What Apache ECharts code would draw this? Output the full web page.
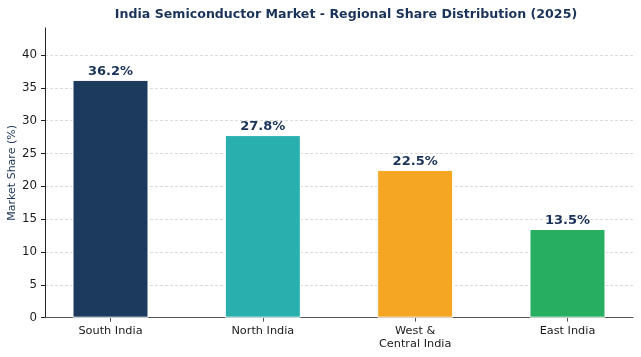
<!DOCTYPE html>
<html><head><meta charset="utf-8">
<script src="https://cdn.jsdelivr.net/npm/echarts@6/dist/echarts.min.js"></script>
<style>html,body{margin:0;padding:0;background:#fff}#c{width:641px;height:357px}</style>
</head><body><div id="c"></div>
<script>
const categories = ['South India', 'North India', 'West &\nCentral India', 'East India'];
const shares = [36.2, 27.8, 22.5, 13.5];
const barColors = ['#1b3a5e', '#2aafaf', '#f5a623', '#27ae60'];
const yTicks = [0, 5, 10, 15, 20, 25, 30, 35, 40];
const xPositions = categories.map((_, i) => i);

const chart = echarts.init(document.getElementById('c'), null, {renderer: 'canvas'});
const font = 'DejaVu Sans';
chart.setOption({
  animation: false,
  backgroundColor: '#fff',
  title: {
    text: 'India Semiconductor Market - Regional Share Distribution (2025)',
    left: 341, top: 3, textAlign: 'center',
    textStyle: {fontFamily: font, fontSize: 12.6, fontWeight: 'bold', color: '#1a3358'}
  },
  grid: {left: 45, right: 8, top: 28, bottom: 39.3, containLabel: false, outerBoundsMode: 'none'},
  xAxis: {
    type: 'value', min: -0.43, max: 3.43,
    splitLine: {show: false},
    axisLine: {show: true, onZero: false, lineStyle: {color: '#555', width: 1}},
    axisTick: {show: true, customValues: xPositions, length: 4, lineStyle: {color: '#555'}},
    axisLabel: {
      customValues: xPositions, margin: 7,
      fontFamily: font, fontSize: 11.3, color: '#1a1a1a', lineHeight: 13,
      formatter: v => categories[Math.round(v)] || ''
    }
  },
  yAxis: {
    type: 'value', min: 0, max: 44.1, interval: 5,
    name: 'Market Share (%)', nameLocation: 'middle', nameGap: 27, nameRotate: 90,
    nameMoveOverlap: false,
    nameTextStyle: {fontFamily: font, fontSize: 11, color: '#1a3358'},
    axisLine: {show: true, onZero: false, lineStyle: {color: '#222', width: 1}},
    axisTick: {show: true, customValues: yTicks, length: 4, lineStyle: {color: '#222'}},
    axisLabel: {customValues: yTicks, margin: 8, fontFamily: font, fontSize: 11.8, color: '#1a1a1a'},
    splitLine: {show: true, showMinLine: false, lineStyle: {color: '#d0d0d0', type: [3, 2], width: 0.8}}
  },
  series: [{
    type: 'bar',
    barWidth: 76,
    data: shares.map((v, i) => ({value: [xPositions[i], v], itemStyle: {color: barColors[i]}})),
    itemStyle: {borderColor: '#fff', borderWidth: 1},
    label: {
      show: true, position: 'top', distance: 2,
      fontFamily: font, fontSize: 13, fontWeight: 'bold', color: '#1a3358',
      formatter: p => p.value[1].toFixed(1) + '%'
    }
  }]
});
</script></body></html>
